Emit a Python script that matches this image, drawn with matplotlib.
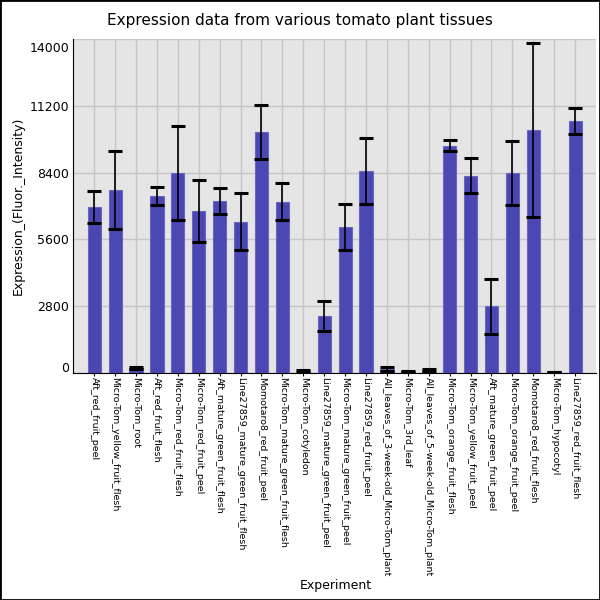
import numpy as np
import matplotlib.pyplot as plt
import matplotlib.transforms as mtransforms
from matplotlib.patches import Rectangle

tissues = [
    "Aft_red_fruit_peel", "Micro-Tom_yellow_fruit_flesh", "Micro-Tom_root",
    "Aft_red_fruit_flesh", "Micro-Tom_red_fruit_flesh", "Micro-Tom_red_fruit_peel",
    "Aft_mature_green_fruit_flesh", "Line27859_mature_green_fruit_flesh",
    "Momotaro8_red_fruit_peel", "Micro-Tom_mature_green_fruit_flesh",
    "Micro-Tom_cotyledon", "Line27859_mature_green_fruit_peel",
    "Micro-Tom_mature_green_fruit_peel", "Line27859_red_fruit_peel",
    "All_leaves_of_3-week-old_Micro-Tom_plant", "Micro-Tom_3rd_leaf",
    "All_leaves_of_5-week-old_Micro-Tom_plant", "Micro-Tom_orange_fruit_flesh",
    "Micro-Tom_yellow_fruit_peel", "Aft_mature_green_fruit_peel",
    "Micro-Tom_orange_fruit_peel", "Momotaro8_red_fruit_flesh",
    "Micro-Tom_hypocotyl", "Line27859_red_fruit_flesh",
]
expression = [6960, 7680, 200, 7420, 8390, 6800, 7210, 6340, 10110, 7180,
              70, 2380, 6130, 8480, 170, 60, 100, 9540, 8270, 2780,
              8400, 10200, 30, 10570]
std_dev = [660, 1650, 60, 380, 1960, 1310, 530, 1200, 1140, 780,
           30, 630, 970, 1380, 80, 30, 60, 220, 730, 1150,
           1340, 3650, 10, 560]
yticks = [0, 2800, 5600, 8400, 11200, 14000]

fig = plt.figure(figsize=(6, 6), dpi=100)
ax = fig.add_axes([73.3 / 600, 1 - 372.7 / 600, (596 - 73.3) / 600, (372.7 - 39.3) / 600])
ax.set_facecolor("#e5e5e5")

x = np.arange(len(tissues))
ax.bar(x, expression, width=0.63, color="#4b47b2", edgecolor="#6a66c4",
       linewidth=0.8, zorder=2)
ax.errorbar(x, expression, yerr=std_dev, fmt="none", ecolor="black",
            elinewidth=1.2, capsize=4.7, capthick=2.2, zorder=3)

ax.set_xlim(-1, len(tissues))
ax.set_ylim(0, 14000)
ax.set_yticks(yticks)
ax.set_yticklabels([str(v) for v in yticks], fontsize=9)
ax.set_xticks(x)
ax.set_xticklabels(tissues, rotation=270, fontsize=6.8)
ax.tick_params(axis="y", length=0, pad=3)
ax.tick_params(axis="x", length=2, pad=1)
ax.grid(True, color="#c6c6c6", linewidth=1, zorder=0)
ax.set_axisbelow(True)

# the end labels are pulled inside the plot range in the reference
labels = ax.get_yticklabels()
down = mtransforms.ScaledTranslation(0, -8 / 100, fig.dpi_scale_trans)
up = mtransforms.ScaledTranslation(0, 6 / 100, fig.dpi_scale_trans)
labels[0].set_transform(labels[0].get_transform() + up)
labels[-1].set_transform(labels[-1].get_transform() + down)

for side in ["top", "right"]:
    ax.spines[side].set_visible(False)
ax.spines["left"].set_color("black")
ax.spines["bottom"].set_color("black")

ax.set_ylabel("Expression_(Fluor._Intensity)", fontsize=9)
ax.yaxis.set_label_coords(-0.093, 0.5)
fig.text(336 / 600, 1 - 585 / 600, "Experiment", ha="center", va="center", fontsize=9)
fig.text(300 / 600, 1 - 20 / 600, "Expression data from various tomato plant tissues",
         ha="center", va="center", fontsize=11)

fig.patches.append(Rectangle((0, 0), 1, 1, transform=fig.transFigure, fill=False,
                             edgecolor="black", linewidth=2))

fig.savefig("out.png", dpi=100)
